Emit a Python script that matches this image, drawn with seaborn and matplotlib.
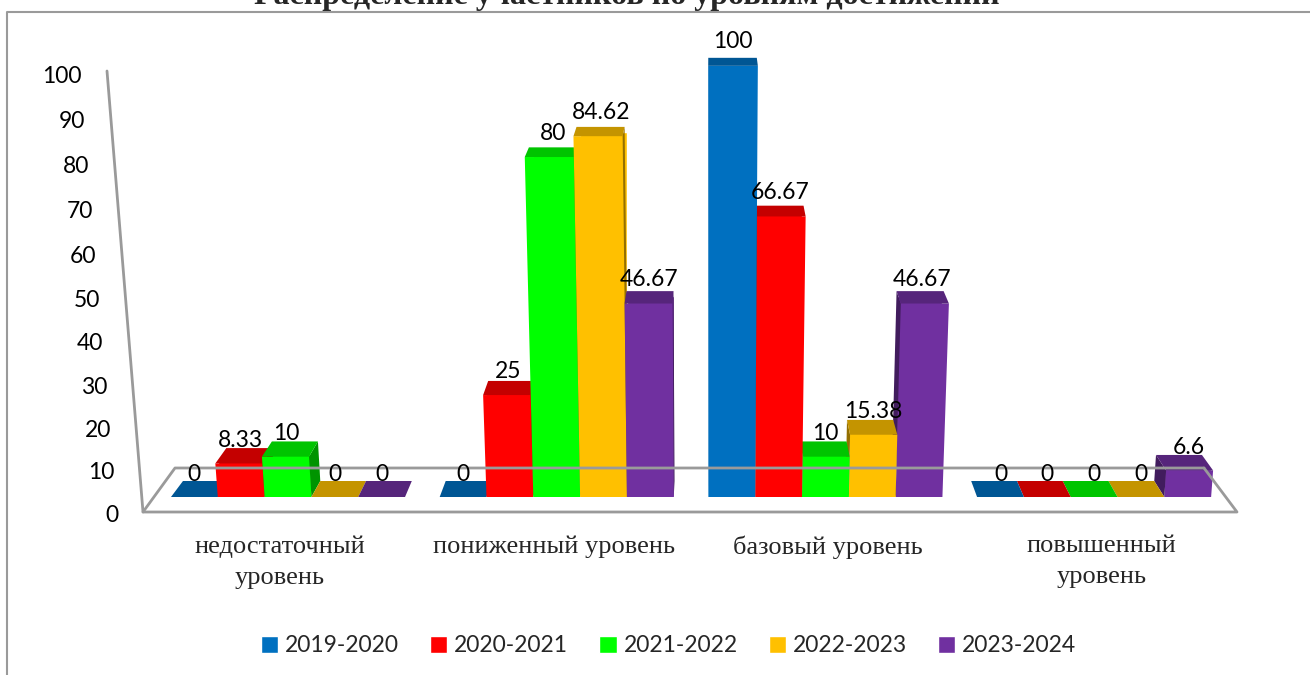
#!/usr/bin/env python3

import pandas as pd
import seaborn as sns
from matplotlib import pyplot as plt
from matplotlib.patches import Polygon

title = 'Распределение участников по уровням достижений'
levels = ['недостаточный\nуровень', 'пониженный уровень', 'базовый уровень', 'повышенный\nуровень']
years = ['2019-2020', '2020-2021', '2021-2022', '2022-2023', '2023-2024']
colors = ['#0070C0', '#FF0000', '#00FF00', '#FFC000', '#7030A0']

v_2019 = [0, 0, 100, 0]
v_2020 = [8.33, 25, 66.67, 0]
v_2021 = [10, 80, 10, 0]
v_2022 = [0, 84.62, 15.38, 0]
v_2023 = [0, 46.67, 46.67, 6.6]
y_ticks = [0, 10, 20, 30, 40, 50, 60, 70, 80, 90, 100]

W, H = 1310, 675
GRID = '#9A9A9A'
# chart perspective, in image pixels
X0, X_STEP = 288, 268.7     # centre of the first group, distance between groups
BASE = 497                  # front edge of the bars
VX, VY = 711, -363          # vanishing point
KX, KY = 0.0222, 0.0186     # how far back the bars go

rows = []
for year, vals in zip(years, [v_2019, v_2020, v_2021, v_2022, v_2023]):
    for level, val in zip(levels, vals):
        rows.append({'level': level, 'year': year, 'value': val})
df = pd.DataFrame(rows)

sns.set_style('white')
plt.rcParams['font.family'] = ['Lato', 'DejaVu Sans']

fig = plt.figure(figsize=(W / 100, H / 100), dpi=100)
ax = fig.add_axes([143 / W, 1 - BASE / H, (1237 - 143) / W, (BASE - 40) / H])

sns.barplot(data=df, x='level', y='value', hue='year', palette=colors, order=levels,
            hue_order=years, width=0.871, gap=0, saturation=1, errorbar=None, ax=ax)
ax.set_xlim((143 - X0) / X_STEP, (1237 - X0) / X_STEP)
ax.set_ylim(0, (BASE - 40) / 4.31)
ax.set_xlabel('')
ax.set_ylabel('')
ax.set_yticks([])
sns.despine(ax=ax, left=True, bottom=True)
ax.patch.set_alpha(0)

# category labels sit a little wider than the groups
ax.set_xticks([((VX + (X0 + X_STEP * i - VX) * 1.02) - X0) / X_STEP for i in range(len(levels))])
ax.set_xticklabels(levels, family='Liberation Serif', fontsize=19, linespacing=1.52, va='top')
ax.tick_params(axis='x', length=0, pad=27.5)

sns.move_legend(ax, 'center', bbox_to_anchor=((668.5 - 143) / 1094, 1 - (646 - 40) / (BASE - 40)),
                ncol=5, frameon=False, title=None, fontsize=16.5, handlelength=0.76, handleheight=0.76,
                handletextpad=0.3, columnspacing=1.35, borderpad=0, borderaxespad=0)

# pixel overlay for the 3d faces
ov = fig.add_axes([0, 0, 1, 1], zorder=5)
ov.set_xlim(0, W)
ov.set_ylim(H, 0)
ov.axis('off')

# frame
ov.plot([7, 7, W], [H, 12, 12], color=GRID, lw=1.5)
# floor and wall
ov.plot([107, 143, 1237, 1204], [71, 512, 512, 468], color=GRID, lw=2)
ov.plot([143, 175, 1204], [512, 468, 468], color=GRID, lw=2)


def front(x_data, val):
    px = X0 + X_STEP * x_data
    return VX + (px - VX) * (1 + 0.0006 * val), BASE - 4.0 * val * (1 + 0.00078 * val)


def back(pt):
    return pt[0] + KX * (VX - pt[0]), pt[1] + KY * (VY - pt[1])


def shade(color, k):
    return (color[0] * k, color[1] * k, color[2] * k)


bars = [p for p in ax.patches if p.get_width() > 0]
bars.sort(key=lambda p: -abs(X0 + X_STEP * (p.get_x() + p.get_width() / 2) - VX))

for p in bars:
    x0, x1, val = p.get_x(), p.get_x() + p.get_width(), p.get_height()
    col = p.get_facecolor()
    tl, tr, bl, br = front(x0, val), front(x1, val), front(x0, 0), front(x1, 0)
    if val > 0:
        ov.add_patch(Polygon([bl, br, tr, tl], closed=True, fc=col, ec='none'))
        # the side that faces the middle of the chart
        if (x0 + x1) / 2 * X_STEP + X0 < VX:
            side = [br, tr, back(tr), back(br)]
        else:
            side = [bl, tl, back(tl), back(bl)]
        ov.add_patch(Polygon(side, closed=True, fc=shade(col, 0.58), ec='none'))
    ov.add_patch(Polygon([tl, tr, back(tr), back(tl)], closed=True, fc=shade(col, 0.77), ec='none'))

# value labels
for p in ax.patches:
    if p.get_width() == 0:
        continue
    val = p.get_height()
    cx = p.get_x() + p.get_width() / 2
    px = X0 + X_STEP * cx
    top = back(front(cx, val))[1]
    ov.text(px + (px - VX) * 0.0003 * val, top - 7 - 0.09 * val, '%g' % val, ha='center', va='center',
            fontsize=16.5, color='black')

# y axis labels follow the slanted wall
for t in y_ticks:
    ov.text(118 - 0.36 * t, 515 - t * 4.2 * (1 + 0.00045 * t), str(t), ha='right', va='center',
            fontsize=16.5, color='black')

fig.suptitle(title, x=627 / W, y=1 - 4 / H, va='baseline', family='Liberation Serif',
             fontweight='bold', fontsize=23)

plt.savefig('out.png', dpi=100)
